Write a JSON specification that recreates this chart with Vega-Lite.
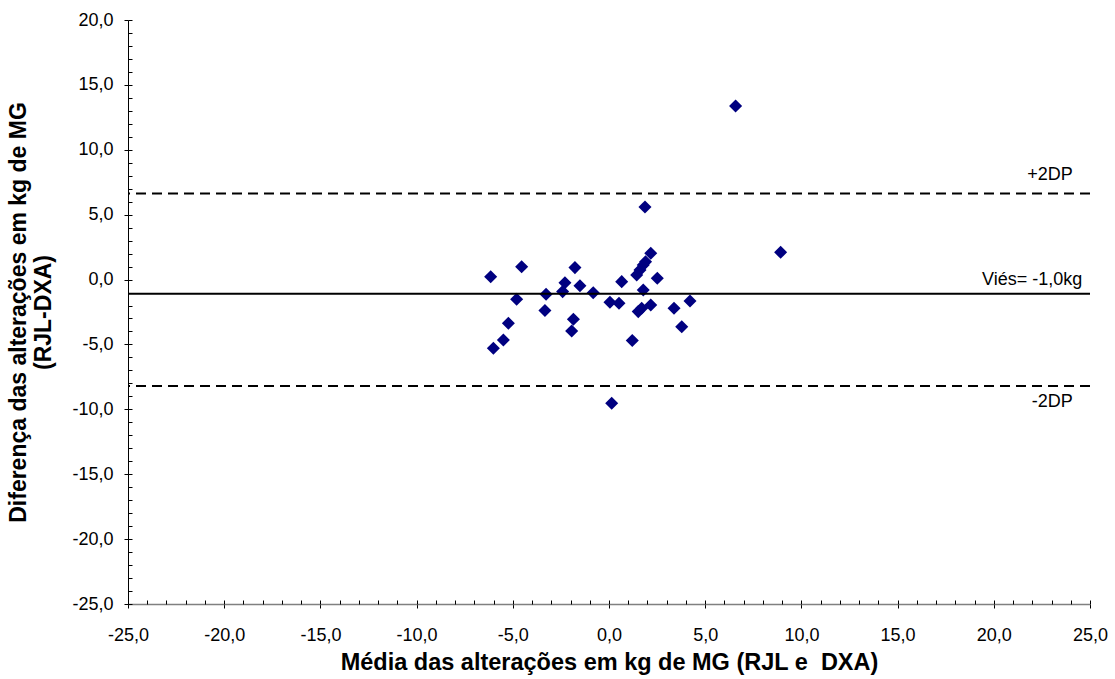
{
  "$schema": "https://vega.github.io/schema/vega-lite/v6.json",
  "width": 962,
  "height": 584,
  "autosize": "none",
  "padding": {"left": 128, "top": 20, "right": 25, "bottom": 75},
  "background": "white",
  "config": {
    "view": {"stroke": null},
    "font": "Liberation Sans",
    "locale": {"number": {"decimal": ",", "thousands": ".", "grouping": [3], "currency": ["", ""], "minus": "-"}}
  },
  "datasets": {
    "pts": [
      {"media": -6.15, "dif": 0.22},
      {"media": -4.54, "dif": 0.99},
      {"media": -4.80, "dif": -1.52},
      {"media": -5.23, "dif": -3.37},
      {"media": -5.49, "dif": -4.65},
      {"media": -6.01, "dif": -5.29},
      {"media": -3.27, "dif": -1.13},
      {"media": -3.33, "dif": -2.39},
      {"media": -2.29, "dif": -0.24},
      {"media": -2.41, "dif": -0.93},
      {"media": -1.77, "dif": 0.92},
      {"media": -1.51, "dif": -0.47},
      {"media": -1.85, "dif": -3.06},
      {"media": -1.94, "dif": -3.96},
      {"media": -0.82, "dif": -1.01},
      {"media": 0.05, "dif": -1.75},
      {"media": 0.52, "dif": -1.83},
      {"media": 0.66, "dif": -0.16},
      {"media": 1.21, "dif": -4.70},
      {"media": 1.44, "dif": 0.35},
      {"media": 1.61, "dif": 0.74},
      {"media": 1.78, "dif": 1.12},
      {"media": 1.90, "dif": 1.38},
      {"media": 2.17, "dif": 2.03},
      {"media": 1.78, "dif": -0.80},
      {"media": 1.52, "dif": -2.47},
      {"media": 1.70, "dif": -2.21},
      {"media": 2.17, "dif": -1.96},
      {"media": 2.51, "dif": 0.10},
      {"media": 3.38, "dif": -2.21},
      {"media": 4.21, "dif": -1.65},
      {"media": 3.78, "dif": -3.63},
      {"media": 1.87, "dif": 5.59},
      {"media": 6.58, "dif": 13.37},
      {"media": 8.92, "dif": 2.10},
      {"media": 0.14, "dif": -9.53}
    ],
    "linhas": [
      {"valor": 6.63, "tipo": "dp"},
      {"valor": -1.1, "tipo": "vies"},
      {"valor": -8.2, "tipo": "dp"}
    ],
    "rotulos": [
      {"x": 24.1, "y": 8.06, "texto": "+2DP"},
      {"x": 24.6, "y": -0.03, "texto": "Viés= -1,0kg"},
      {"x": 24.1, "y": -9.43, "texto": "-2DP"}
    ]
  },
  "layer": [
    {
      "data": {"name": "pts"},
      "mark": {"type": "point", "shape": "diamond", "filled": true, "color": "#000080", "opacity": 1, "size": 170},
      "encoding": {
        "x": {
          "field": "media", "type": "quantitative",
          "scale": {"domain": [-25, 25], "nice": false, "zero": false},
          "axis": {
            "values": [-25, -20, -15, -10, -5, 0, 5, 10, 15, 20, 25],
            "format": ".1f",
            "grid": false,
            "orient": "bottom",
            "domainColor": "#808080", "domainWidth": 1.5,
            "tickColor": "#000000", "tickSize": 4, "tickWidth": 1,
            "labelFont": "Liberation Sans", "labelFontSize": 18, "labelColor": "#000000", "labelPadding": 18,
            "labelFlush": false,
            "title": "Média das alterações em kg de MG (RJL e\u00a0 DXA)",
            "titleFont": "Liberation Sans", "titleFontSize": 23.5, "titleFontWeight": "bold", "titleColor": "#000000",
            "titlePadding": 6
          }
        },
        "y": {
          "field": "dif", "type": "quantitative",
          "scale": {"domain": [-25, 20], "nice": false, "zero": false},
          "axis": {
            "values": [-25, -20, -15, -10, -5, 0, 5, 10, 15, 20],
            "format": ".1f",
            "grid": false,
            "orient": "left",
            "domainColor": "#000000", "domainWidth": 1,
            "tickColor": "#000000", "tickSize": 4, "tickWidth": 1,
            "labelFont": "Liberation Sans", "labelFontSize": 18, "labelColor": "#000000", "labelPadding": 11,
            "labelFlush": false,
            "title": ["Diferença das alterações em kg de MG", "(RJL-DXA)"],
            "titleFont": "Liberation Sans", "titleFontSize": 23, "titleFontWeight": "bold", "titleColor": "#000000",
            "titleLineHeight": 25,
            "titlePadding": 16
          }
        }
      }
    },
    {
      "data": {"name": "linhas"},
      "mark": {"type": "rule", "color": "#000000", "strokeWidth": 2},
      "encoding": {
        "y": {"field": "valor", "type": "quantitative", "axis": null},
        "strokeDash": {
          "field": "tipo", "type": "nominal",
          "scale": {"domain": ["dp", "vies"], "range": [[10, 6], [1, 0]]},
          "legend": null
        }
      }
    },
    {
      "data": {"name": "rotulos"},
      "mark": {"type": "text", "align": "right", "baseline": "middle", "font": "Liberation Sans", "fontSize": 18, "color": "#000000"},
      "encoding": {
        "x": {
          "field": "x", "type": "quantitative",
          "axis": {
            "values": [-25,-24,-23,-22,-21,-20,-19,-18,-17,-16,-15,-14,-13,-12,-11,-10,-9,-8,-7,-6,-5,-4,-3,-2,-1,0,1,2,3,4,5,6,7,8,9,10,11,12,13,14,15,16,17,18,19,20,21,22,23,24,25],
            "orient": "bottom", "labels": false, "domain": false, "grid": false, "title": null,
            "tickColor": "#000000", "tickSize": -4, "tickWidth": 1
          }
        },
        "y": {
          "field": "y", "type": "quantitative",
          "axis": {
            "values": [-25,-24,-23,-22,-21,-20,-19,-18,-17,-16,-15,-14,-13,-12,-11,-10,-9,-8,-7,-6,-5,-4,-3,-2,-1,0,1,2,3,4,5,6,7,8,9,10,11,12,13,14,15,16,17,18,19,20],
            "orient": "left", "labels": false, "domain": false, "grid": false, "title": null,
            "tickColor": "#000000", "tickSize": -4, "tickWidth": 1
          }
        },
        "text": {"field": "texto", "type": "nominal"}
      }
    }
  ],
  "resolve": {"axis": {"x": "independent", "y": "independent"}}
}
